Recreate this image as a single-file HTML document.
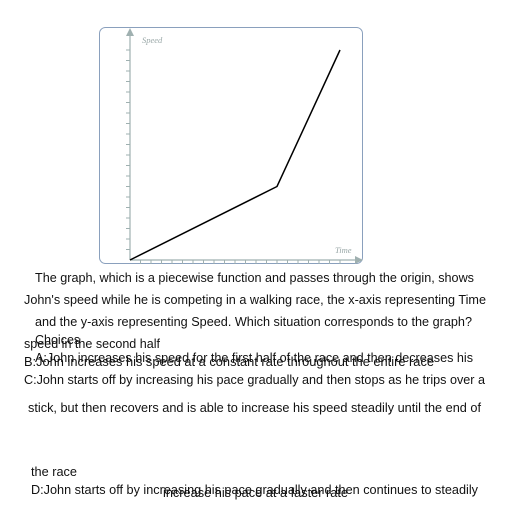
<!DOCTYPE html>
<html><head><meta charset="utf-8"><style>
html,body{margin:0;padding:0;background:#fff;width:512px;height:512px;overflow:hidden}
svg{display:block}
text{font-family:"Liberation Sans","DejaVu Sans",sans-serif}
text.lbl{font-family:"Liberation Serif",serif;font-style:italic}
.q{font-size:12.5px;fill:#111}
</style></head><body>
<svg id="s" width="512" height="512">
<rect x="99.5" y="27.5" width="263" height="236" rx="6" fill="#fff" stroke="#8aa0bd" stroke-width="1"/>
<g id="axes"></g>
<g id="plot"></g>
<text class="lbl" x="142" y="43" font-size="8.5" fill="#9aa8a8">Speed</text>
<text class="lbl" x="335" y="253" font-size="8.5" fill="#9aa8a8">Time</text>
<g class="q">
<text x="35" y="282" textLength="439" lengthAdjust="spacingAndGlyphs">The graph, which is a piecewise function and passes through the origin, shows</text>
<text x="24" y="304" textLength="462" lengthAdjust="spacingAndGlyphs">John's speed while he is competing in a walking race, the x-axis representing Time</text>
<text x="35" y="326" textLength="437" lengthAdjust="spacingAndGlyphs">and the y-axis representing Speed. Which situation corresponds to the graph?</text>
<text x="35" y="344">Choices</text>
<text x="24" y="348" textLength="136" lengthAdjust="spacingAndGlyphs">speed in the second half</text>
<text x="35" y="362" textLength="438" lengthAdjust="spacingAndGlyphs">A:John increases his speed for the first half of the race and then decreases his</text>
<text x="24" y="366" textLength="410" lengthAdjust="spacingAndGlyphs">B:John increases his speed at a constant rate throughout the entire race</text>
<text x="24" y="384" textLength="461" lengthAdjust="spacingAndGlyphs">C:John starts off by increasing his pace gradually and then stops as he trips over a</text>
<text x="28" y="412" textLength="453" lengthAdjust="spacingAndGlyphs">stick, but then recovers and is able to increase his speed steadily until the end of</text>
<text x="31" y="476" textLength="46" lengthAdjust="spacingAndGlyphs">the race</text>
<text x="31" y="494" textLength="447" lengthAdjust="spacingAndGlyphs">D:John starts off by increasing his pace gradually and then continues to steadily</text>
<text x="163" y="497" textLength="185" lengthAdjust="spacingAndGlyphs">increase his pace at a faster rate</text>
</g>
</svg>
<script>
const times=[0,14,20];
const speeds=[0,7,20];
const xTickCount=21;
const yTickCount=21;
const NS="http://www.w3.org/2000/svg";
const ox=130,oy=260,unit=10.5;
function sx(v){return ox+v*unit;}
function sy(v){return oy-v*unit;}
function mk(tag,attrs,parent){const e=document.createElementNS(NS,tag);for(const k in attrs)e.setAttribute(k,attrs[k]);parent.appendChild(e);return e;}
const axes=document.getElementById('axes');
const ac="#9fb0b0";
let e=mk('line',{x1:ox,y1:oy,x2:358,y2:oy,stroke:ac,'stroke-width':1.2},axes);


e=mk('polygon',{points:"363,260 355,256 355,264",fill:ac},axes);


e=mk('line',{x1:ox,y1:oy,x2:ox,y2:34,stroke:ac,'stroke-width':1.2},axes);


e=mk('polygon',{points:"130,28 126,36 134,36",fill:ac},axes);


for(let i=1;i<xTickCount;i++){
 e=mk('line',{x1:sx(i),y1:oy,x2:sx(i),y2:oy+4,stroke:ac,'stroke-width':1},axes);
 
 
}
for(let i=1;i<yTickCount;i++){
 e=mk('line',{x1:ox-4,y1:sy(i),x2:ox,y2:sy(i),stroke:ac,'stroke-width':1},axes);
 
 
}
const pts=times.map((t,i)=>sx(t)+","+sy(speeds[i])).join(" ");
e=mk('polyline',{points:pts,fill:"none",stroke:"#000",'stroke-width':1.5},document.getElementById('plot'));


</script>
</body></html>
